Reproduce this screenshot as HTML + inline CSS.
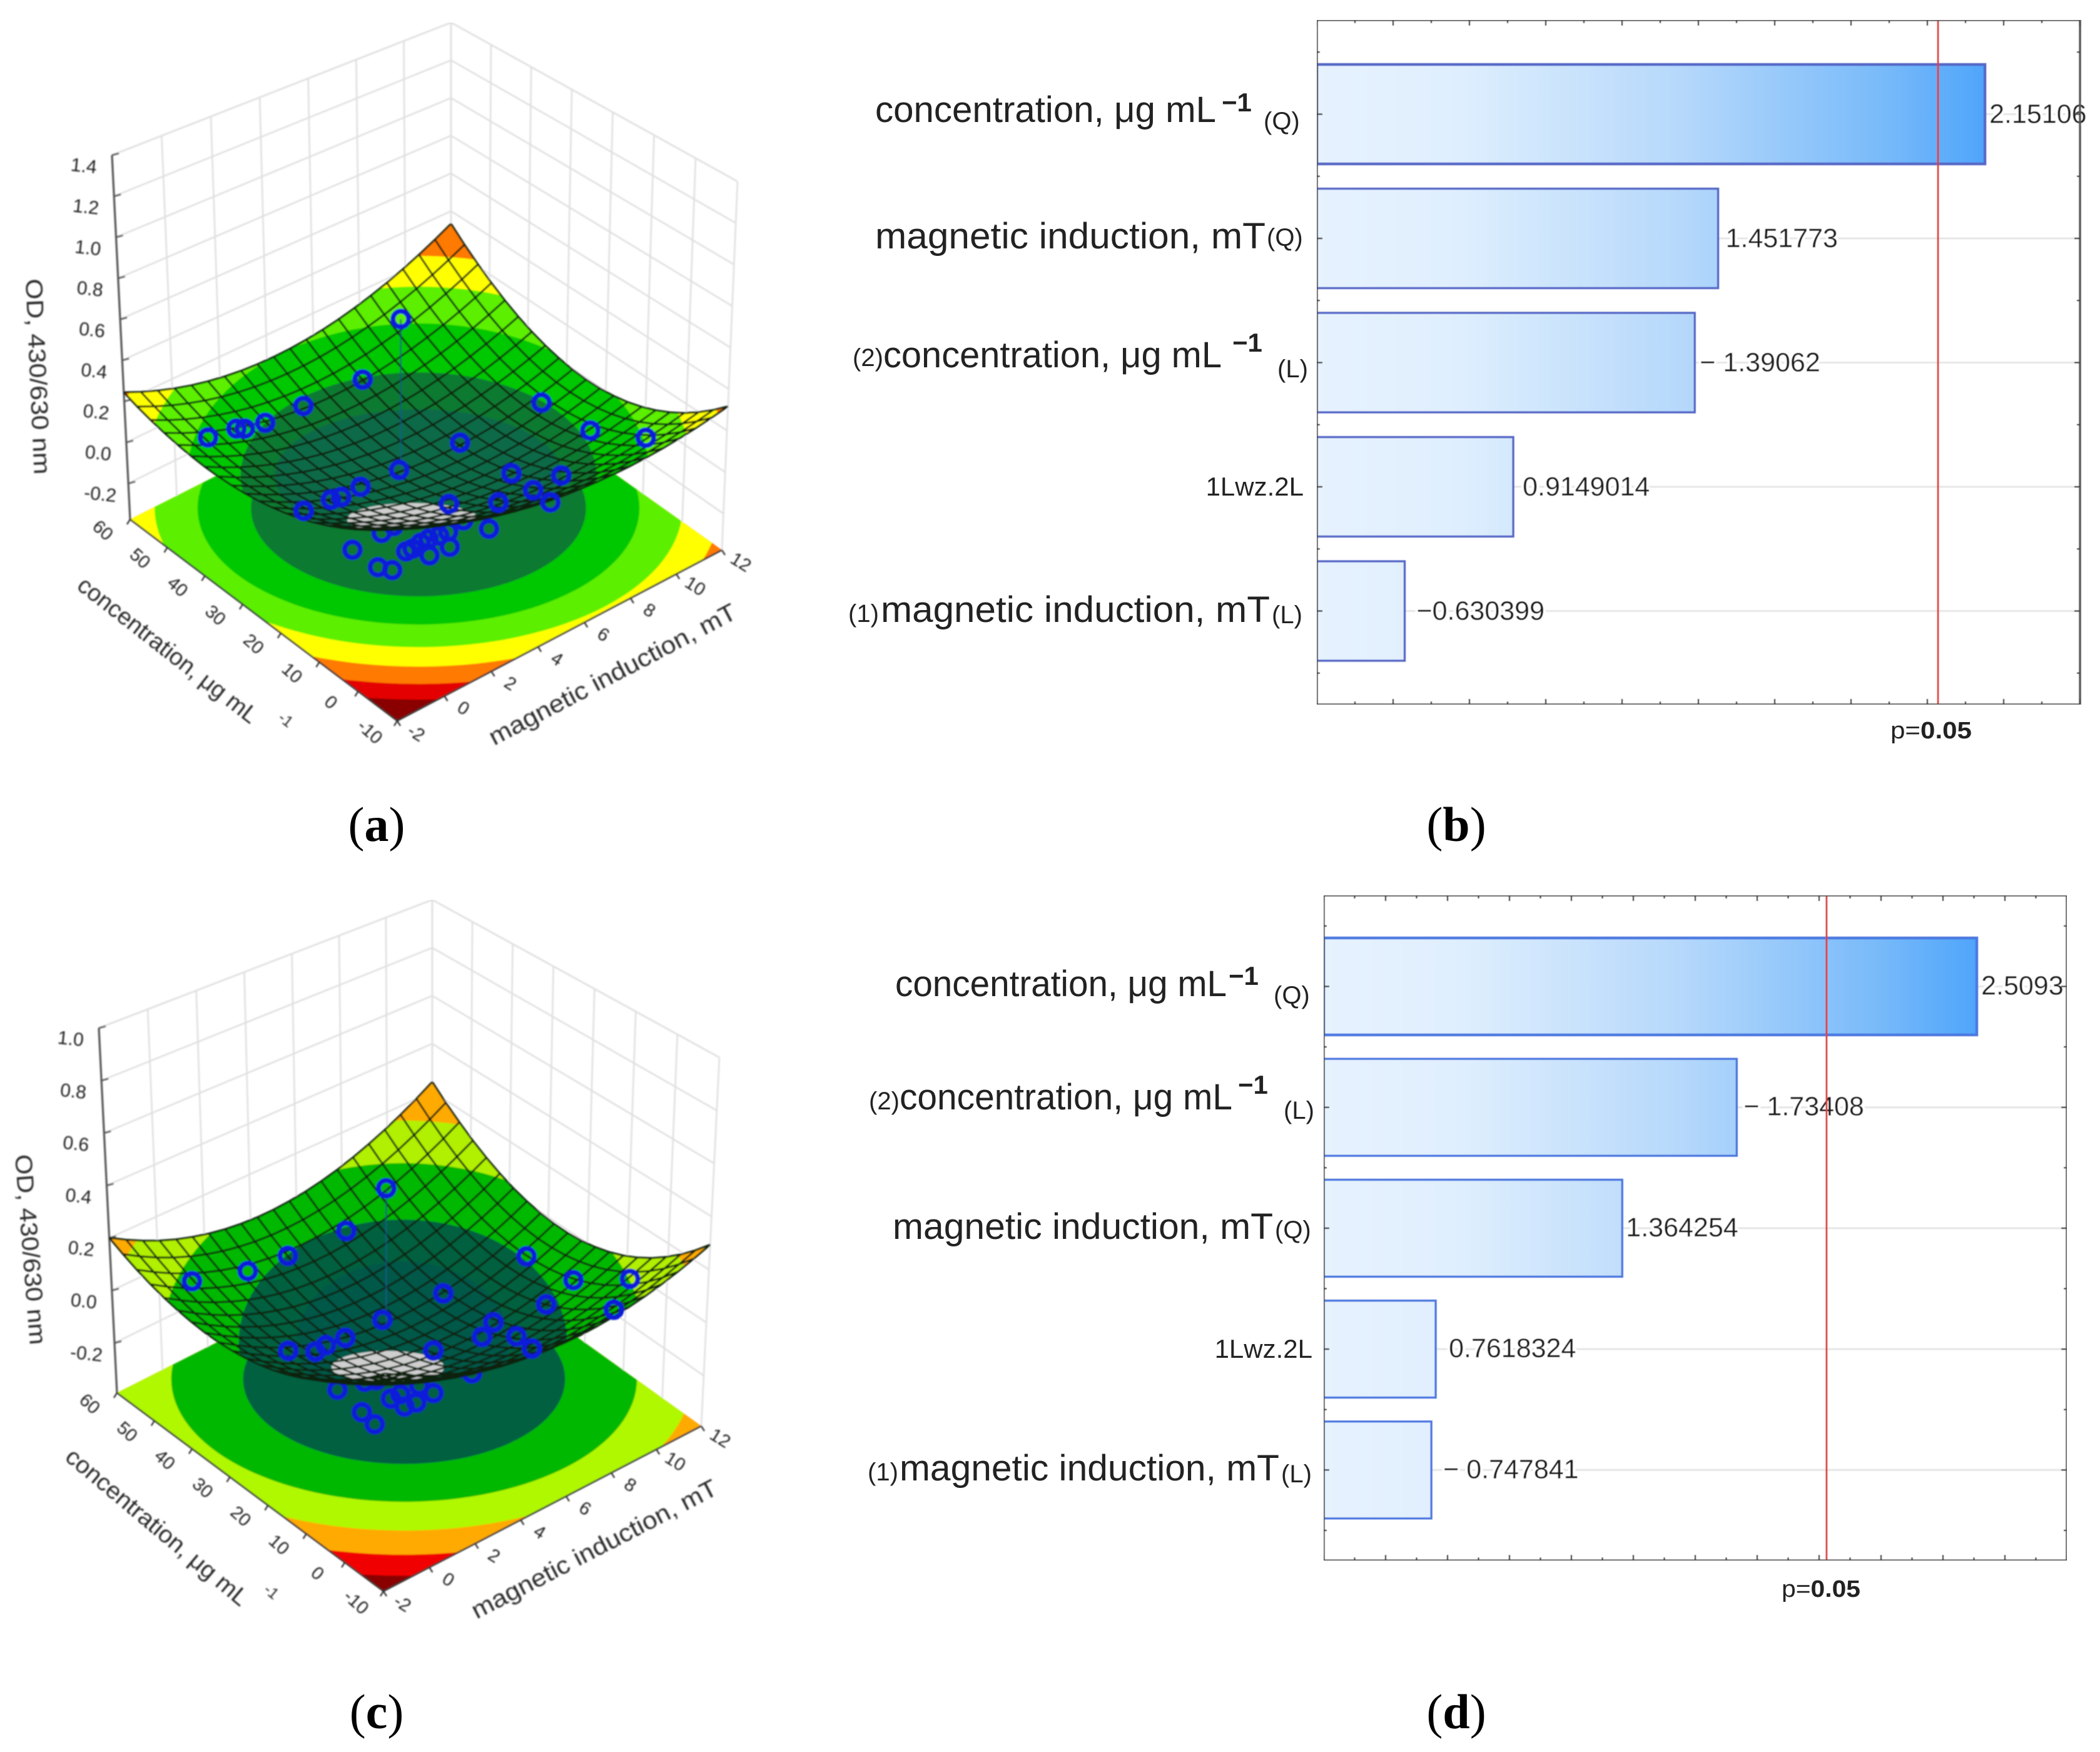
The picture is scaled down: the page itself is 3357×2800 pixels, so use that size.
<!DOCTYPE html>
<html lang="en">
<head>
<meta charset="utf-8">
<title>Response surfaces and Pareto charts</title>
<style>
html,body{margin:0;padding:0;background:#fff;}
svg{display:block;}
text{font-family:"Liberation Sans",sans-serif;fill:#222;}
.cap{font-family:"Liberation Serif",serif;font-size:78px;fill:#000;text-anchor:middle;}
.cap tspan{font-weight:700;}
.lab{font-size:58px;}
.sm{font-size:40px;}
.sup{font-size:42px;font-weight:700;}
.mini{font-size:42px;}
.ptxt{font-size:38px;}
.ax3{fill:#2a2a2a;}
</style>
</head>
<body>
<svg id="root" xmlns="http://www.w3.org/2000/svg" width="3357" height="2800" viewBox="0 0 3357 2800">
<defs>
<filter id="soft" x="0" y="0" width="100%" height="100%" filterUnits="objectBoundingBox"><feGaussianBlur stdDeviation="1.1"/></filter>
<filter id="softP" x="0" y="0" width="100%" height="100%" filterUnits="objectBoundingBox"><feGaussianBlur stdDeviation="0.6"/></filter>
<linearGradient id="barGradB" gradientUnits="userSpaceOnUse" x1="2105" y1="0" x2="3173" y2="0">
<stop offset="0" stop-color="#e6f2fe"/><stop offset=".2" stop-color="#e0effe"/><stop offset=".55" stop-color="#b5d8fb"/><stop offset=".85" stop-color="#78baf9"/><stop offset="1" stop-color="#4fa5fb"/>
</linearGradient>
<linearGradient id="barGradD" gradientUnits="userSpaceOnUse" x1="2116" y1="0" x2="3160" y2="0">
<stop offset="0" stop-color="#e6f2fe"/><stop offset=".2" stop-color="#e0effe"/><stop offset=".55" stop-color="#b5d8fb"/><stop offset=".85" stop-color="#78baf9"/><stop offset="1" stop-color="#4fa5fb"/>
</linearGradient>
</defs>

<g id="panelA" filter="url(#soft)">
<text class="ax3" transform="translate(41,446) rotate(87.5)" font-size="38" textLength="313" lengthAdjust="spacingAndGlyphs">OD, 430/630 nm</text>
<text class="ax3" transform="translate(121,940) rotate(38)" font-size="38" textLength="354" lengthAdjust="spacingAndGlyphs">concentration, μg mL</text>
<text class="ax3" transform="translate(443,1150) rotate(38)" font-size="25">-1</text>
<text class="ax3" transform="translate(790,1192) rotate(-27.7)" font-size="39" textLength="441" lengthAdjust="spacingAndGlyphs">magnetic induction, mT</text>
</g>

<g id="panelC" filter="url(#soft)">
<text class="ax3" transform="translate(24,1846) rotate(85.5)" font-size="38" textLength="305" lengthAdjust="spacingAndGlyphs">OD, 430/630 nm</text>
<text class="ax3" transform="translate(102,2332) rotate(40)" font-size="38" textLength="368" lengthAdjust="spacingAndGlyphs">concentration, μg mL</text>
<text class="ax3" transform="translate(420,2543) rotate(40)" font-size="25">-1</text>
<text class="ax3" transform="translate(762,2588) rotate(-27.4)" font-size="39" textLength="437" lengthAdjust="spacingAndGlyphs">magnetic induction, mT</text>
</g>

<g id="panelB" filter="url(#softP)"></g>
<g>
<text class="lab" x="1399" y="195" textLength="545" lengthAdjust="spacingAndGlyphs">concentration, μg mL</text>
<text class="sup" x="1953" y="178">−1</text>
<text class="sm" x="2020" y="207">(Q)</text>
<text class="lab" x="1399" y="397" textLength="624" lengthAdjust="spacingAndGlyphs">magnetic induction, mT</text>
<text class="sm" x="2025" y="393">(Q)</text>
<text class="sm" x="1363" y="585">(2)</text>
<text class="lab" x="1412" y="587" textLength="541" lengthAdjust="spacingAndGlyphs">concentration, μg mL</text>
<text class="sup" x="1970" y="562">−1</text>
<text class="sm" x="2042" y="603">(L)</text>
<text class="mini" x="2084" y="792" text-anchor="end">1Lwz.2L</text>
<text class="sm" x="1356" y="994">(1)</text>
<text class="lab" x="1408" y="994" textLength="622" lengthAdjust="spacingAndGlyphs">magnetic induction, mT</text>
<text class="sm" x="2033" y="996">(L)</text>
<text class="ptxt" x="3022" y="1180" textLength="130" lengthAdjust="spacingAndGlyphs">p=<tspan font-weight="700">0.05</tspan></text>
</g>

<g id="panelD" filter="url(#softP)"></g>
<g>
<text class="lab" x="1431" y="1592" textLength="530" lengthAdjust="spacingAndGlyphs">concentration, μg mL</text>
<text class="sup" x="1964" y="1574">−1</text>
<text class="sm" x="2036" y="1604">(Q)</text>
<text class="sm" x="1389" y="1773">(2)</text>
<text class="lab" x="1438" y="1773" textLength="532" lengthAdjust="spacingAndGlyphs">concentration, μg mL</text>
<text class="sup" x="1979" y="1748">−1</text>
<text class="sm" x="2052" y="1788">(L)</text>
<text class="lab" x="1427" y="1980" textLength="608" lengthAdjust="spacingAndGlyphs">magnetic induction, mT</text>
<text class="sm" x="2038" y="1979">(Q)</text>
<text class="mini" x="2098" y="2170" text-anchor="end">1Lwz.2L</text>
<text class="sm" x="1387" y="2366">(1)</text>
<text class="lab" x="1438" y="2366" textLength="607" lengthAdjust="spacingAndGlyphs">magnetic induction, mT</text>
<text class="sm" x="2048" y="2369">(L)</text>
<text class="ptxt" x="2848" y="2552" textLength="126" lengthAdjust="spacingAndGlyphs">p=<tspan font-weight="700">0.05</tspan></text>
</g>

<text class="cap" x="602" y="1344">(<tspan>a</tspan>)</text>
<text class="cap" x="2328" y="1344">(<tspan>b</tspan>)</text>
<text class="cap" x="602" y="2762">(<tspan>c</tspan>)</text>
<text class="cap" x="2328" y="2762">(<tspan>d</tspan>)</text>
</svg>

<script>
// ---- Pareto chart data ----
const barValuesB = [2.15106, 1.451773, -1.39062, 0.9149014, -0.630399];
const printedValuesB = ['2.15106', '1.451773', '− 1.39062', '0.9149014', '−0.630399'];
const barValuesD = [2.5093, -1.73408, 1.364254, 0.7618324, -0.747841];
const printedValuesD = ['2.5093', '− 1.73408', '1.364254', '0.7618324', '− 0.747841'];
const significanceB = [2.028];
const significanceD = [2.024];

// ---- Surface plot data: OD sampled at low / mid / high induction, for low / mid / high concentration ----
const inductionTicks = [-2, 0, 2, 4, 6, 8, 10, 12];
const concentrationTicks = [-10, 0, 10, 20, 30, 40, 50, 60];
const odTicksA = [-0.2, 0, 0.2, 0.4, 0.6, 0.8, 1.0, 1.2, 1.4];
const odTicksC = [-0.2, 0, 0.2, 0.4, 0.6, 0.8, 1.0];
const surfaceOdA = [[0.482, 0.269, 0.317], [0.173, -0.089, -0.008], [0.244, 0.076, 0.333]];
const surfaceOdC = [[0.373, 0.184, 0.294], [0.094, -0.134, -0.011], [0.201, 0.019, 0.241]];
const contourLevelsFloorA = [1.0, 0.8, 0.6, 0.4, 0.2, 0];
const contourLevelsSurfaceA = [0.6, 0.4, 0.2, 0, -0.1];
const contourLevelsFloorC = [0.8, 0.6, 0.4, 0.2, 0];
const contourLevelsSurfaceC = [0.4, 0.2, 0, -0.1];

const pointInductionA = [4.45,3.56,2.18,1.28,0.80,0.60,-0.07,7.70,8.84,10.13,5.82,4.40,7.03,8.19,3.49,3.03,2.79,7.54,6.73,7.95,5.57,2.14,
  0.82,1.10,2.70,3.29,1.38,1.53,1.72,1.90,2.15,2.35,2.39,1.92,0.14,0.73,1.06];
const pointConcentrationA = [27.76,32.18,39.12,43.61,46.00,46.98,50.36,11.49,5.78,-0.67,20.89,28.01,14.87,9.03,32.55,34.83,36.05,12.29,16.34,10.26,22.17,39.31,
  10.91,9.50,1.52,-1.43,8.08,7.35,6.42,5.51,4.27,3.23,3.05,5.38,14.28,11.34,9.68];
const pointOdA = [0.664,0.362,0.220,0.129,0.096,0.094,0.044,0.292,0.169,0.147,0.079,-0.068,-0.057,-0.055,-0.159,-0.213,-0.229,-0.133,-0.201,-0.188,-0.221,-0.290,
  0.053,0.088,0.130,0.097,-0.027,-0.013,0.016,0.036,0.054,0.074,0.004,-0.040,-0.032,-0.107,-0.117];

const pointInductionC = [4.47,3.54,2.17,1.22,-0.10,7.74,8.85,10.17,9.82,5.81,4.38,8.23,7.00,6.74,7.55,3.50,3.04,2.79,2.14,7.92,5.59,
  2.96,3.25,2.21,1.96,1.03,0.76,0.12,2.03,2.36,1.96,1.59,1.37,1.69,0.69,0.99];
const pointConcentrationC = [27.65,32.31,39.15,43.88,50.48,11.28,5.74,-0.85,0.89,20.93,28.08,8.85,15.01,16.32,12.27,32.50,34.80,36.05,39.28,10.41,22.05,
  0.21,-1.23,3.94,5.18,9.85,11.22,14.39,4.87,3.19,5.18,7.05,8.17,6.55,11.53,10.03];
const pointOdC = [0.444,0.274,0.168,0.102,0.052,0.214,0.133,0.149,0.030,0.057,-0.056,0.036,-0.043,-0.100,-0.091,-0.132,-0.164,-0.191,-0.193,-0.134,-0.162,
  0.102,0.084,0.102,0.083,0.040,0.032,-0.002,0.029,0.005,-0.033,-0.006,-0.024,-0.050,-0.079,-0.120];

// ---- helpers ----
const NS = 'http://www.w3.org/2000/svg';
function node(parent, tag, attrs) {
  const el = document.createElementNS(NS, tag);
  for (const k in attrs) el.setAttribute(k, attrs[k]);
  parent.appendChild(el);
  return el;
}
function squareToQuad(q) {
  const x0=q[0][0],y0=q[0][1],x1=q[1][0],y1=q[1][1],x2=q[2][0],y2=q[2][1],x3=q[3][0],y3=q[3][1];
  const dx1=x1-x2,dx2=x3-x2,dx3=x0-x1+x2-x3,dy1=y1-y2,dy2=y3-y2,dy3=y0-y1+y2-y3;
  const den=dx1*dy2-dx2*dy1;
  const g=(dx3*dy2-dx2*dy3)/den,h=(dx1*dy3-dx3*dy1)/den;
  const a=x1-x0+g*x1,b=x3-x0+h*x3,d=y1-y0+g*y1,e=y3-y0+h*y3;
  return function(u,v){const k=g*u+h*v+1;return [(a*u+b*v+x0)/k,(d*u+e*v+y0)/k];};
}
function quadBasis(t){return [2*(t-0.5)*(t-1),4*t*(1-t),2*t*(t-0.5)];}

// ---- 3D response surface ----
function drawSurface(g, cfg) {
  const floorH = squareToQuad(cfg.floor), topH = squareToQuad(cfg.top);
  const zScale = z => (z - cfg.zMin) / (cfg.zMax - cfg.zMin);
  const uScale = i => (i + 2) / 14;
  const vScale = c => (c + 10) / 70;
  function project(u, v, w) {
    const a = floorH(u, v), b = topH(u, v);
    return [a[0] + (b[0]-a[0])*w, a[1] + (b[1]-a[1])*w];
  }
  function surfaceZ(u, v) {
    const bu = quadBasis(u), bv = quadBasis(v);
    let s = 0;
    for (let r = 0; r < 3; r++) for (let c = 0; c < 3; c++) s += bv[r]*bu[c]*cfg.surface[r][c];
    return s;
  }
  const fmt = p => p[0].toFixed(1) + ',' + p[1].toFixed(1);

  // walls
  const wallStyle = {stroke:'#e0e0e0','stroke-width':2.6,fill:'none'};
  inductionTicks.forEach(t => {
    const u = uScale(t);
    const l = node(g,'polyline',Object.assign({points:fmt(project(u,1,0))+' '+fmt(project(u,1,1))},wallStyle));
    
    
  });
  concentrationTicks.forEach(t => {
    const v = vScale(t);
    const l = node(g,'polyline',Object.assign({points:fmt(project(1,v,0))+' '+fmt(project(1,v,1))},wallStyle));
    
    
  });
  cfg.zTicks.concat([cfg.zMax]).forEach(t => {
    const w = zScale(t);
    const l = node(g,'polyline',Object.assign({points:fmt(project(0,1,w))+' '+fmt(project(1,1,w))+' '+fmt(project(1,0,w))},wallStyle));
    
    
  });

  // floor contours
  const clipF = node(g.ownerSVGElement.querySelector('defs'),'clipPath',{id:cfg.id+'floorClip'});
  const floorPoly = node(clipF,'polygon',{points:cfg.floor.map(fmt).join(' ')});
  
  
  const floorG = node(g,'g',{'clip-path':'url(#'+cfg.id+'floorClip)'});
  
  
  const floorBase = node(floorG,'polygon',{points:cfg.floor.map(fmt).join(' '),fill:cfg.floorBase});
  
  
  cfg.floorLevels.forEach((L,i) => {
    const rx = Math.sqrt(cfg.fk*(L+cfg.fL0));
    const e = node(floorG,'ellipse',{cx:cfg.fc[0],cy:cfg.fc[1],rx:rx,ry:rx*0.527,fill:cfg.floorColors[i]});
    
    
  });
  const edge = {stroke:'#333','stroke-width':2.6,fill:'none'};
  const edges = node(g,'polyline',Object.assign({points:[cfg.floor[3],cfg.floor[0],cfg.floor[1]].map(fmt).join(' ')},edge));
  
  

  // axis ticks + labels
  const zAxis = node(g,'polyline',{points:fmt(project(0,1,0))+' '+fmt(project(0,1,1)),stroke:'#555','stroke-width':3.2,fill:'none'});
  
  
  cfg.zTicks.concat([]).forEach(t => {
    const p = project(0,1,zScale(t));
    const tk = node(g,'line',{x1:p[0],y1:p[1],x2:p[0]+11,y2:p[1]-3,stroke:'#555','stroke-width':2.6});
    
    
    const lb = node(g,'text',{transform:'translate('+(p[0]-46)+','+(p[1]+27)+') rotate(6)','font-size':30,'text-anchor':'middle',fill:'#555'});
    
    
    lb.textContent = t.toFixed(1);
  });
  concentrationTicks.forEach(t => {
    const p = project(0,vScale(t),0);
    const tk = node(g,'line',{x1:p[0],y1:p[1],x2:p[0]-5,y2:p[1]+8,stroke:'#333','stroke-width':2.4});
    
    
    const lb = node(g,'text',{transform:'translate('+(p[0]-44)+','+(p[1]+18)+') rotate(42)','font-size':29,'text-anchor':'middle','dominant-baseline':'central',fill:'#555'});
    
    
    lb.textContent = String(t);
  });
  inductionTicks.forEach(t => {
    const p = project(uScale(t),0,0);
    const tk = node(g,'line',{x1:p[0],y1:p[1],x2:p[0]+5,y2:p[1]+8,stroke:'#333','stroke-width':2.4});
    
    
    const lb = node(g,'text',{transform:'translate('+(p[0]+30)+','+(p[1]+20)+') rotate(32)','font-size':29,'text-anchor':'middle','dominant-baseline':'central',fill:'#555'});
    
    
    lb.textContent = String(t);
  });

  // scatter point
  function drawPoint(i) {
    const p = project(uScale(cfg.ptI[i]), vScale(cfg.ptC[i]), zScale(cfg.ptZ[i]));
    const c = node(g,'circle',{cx:p[0],cy:p[1],r:12.5,fill:'none',stroke:'#0a1fd8','stroke-width':8});
    
    
  }
  for (let i = cfg.lowerStart; i < cfg.ptI.length; i++) drawPoint(i);

  // surface
  const n = 20;
  const grid = [];
  for (let i = 0; i <= n; i++) {
    grid.push([]);
    for (let j = 0; j <= n; j++) {
      const u = i/n, v = j/n;
      grid[i].push(project(u, v, zScale(surfaceZ(u,v))));
    }
  }
  const clipS = node(g.ownerSVGElement.querySelector('defs'),'clipPath',{id:cfg.id+'surfClip'});
  for (let i = 0; i < n; i++) for (let j = 0; j < n; j++) {
    const cell = node(clipS,'polygon',{points:[grid[i][j],grid[i+1][j],grid[i+1][j+1],grid[i][j+1]].map(fmt).join(' ')});
    
    
  }
  const surfG = node(g,'g',{'clip-path':'url(#'+cfg.id+'surfClip)'});
  
  
  const surfBase = node(surfG,'rect',{x:cfg.sc[0]-900,y:cfg.sc[1]-700,width:1800,height:1300,fill:cfg.surfBase});
  
  
  cfg.surfLevels.forEach((L,i) => {
    const rx = Math.sqrt(cfg.sxk*(L+cfg.sxL0));
    const ry = Math.sqrt(cfg.syk*(L+cfg.syL0));
    const e = node(surfG,'ellipse',{cx:cfg.sc[0],cy:cfg.sc[1],rx:rx,ry:ry,fill:cfg.surfColors[i]});
    
    
  });
  const grey = node(surfG,'ellipse',{cx:cfg.grey[0],cy:cfg.grey[1],rx:cfg.grey[2],ry:cfg.grey[3],fill:'#cfcfcf'});
  
  

  const meshStyle = {fill:'none',stroke:'#082008','stroke-width':3};
  for (let i = 0; i <= n; i++) {
    const a = node(g,'polyline',Object.assign({points:grid[i].map(fmt).join(' ')},meshStyle));
    
    
    const b = node(g,'polyline',Object.assign({points:grid.map(r => fmt(r[i])).join(' ')},meshStyle));
    
    
  }

  // stem of the highest point
  const top = project(uScale(cfg.ptI[0]), vScale(cfg.ptC[0]), zScale(cfg.ptZ[0]));
  const stem = node(g,'line',{x1:top[0],y1:top[1],x2:top[0],y2:top[1]+cfg.stem,stroke:'#0a5f88','stroke-width':3,opacity:0.7});
  
  
  for (let i = 0; i < cfg.lowerStart; i++) drawPoint(i);
}

drawSurface(document.getElementById('panelA'), {
  id:'a',
  floor:[[635,1152],[1154,879],[721,571],[208,830]],
  top:[[635,516],[1179,290],[721,36],[179,248]],
  zMin:-0.375, zMax:1.4, zTicks:odTicksA,
  surface:surfaceOdA,
  ptI:pointInductionA, ptC:pointConcentrationA, ptZ:pointOdA, lowerStart:22, stem:240,
  fc:[669,812], fk:265600, fL0:0.27,
  floorBase:'#8a0000', floorLevels:contourLevelsFloorA,
  floorColors:['#e40000','#ff7a00','#ffff00','#5cf000','#06c800','#0c7a30'],
  sc:[669,760], sxk:280000, sxL0:0.289, syk:160000, syL0:0.17,
  surfBase:'#ff7a00', surfLevels:contourLevelsSurfaceA,
  surfColors:['#ffff00','#5cf000','#06c800','#0e7a30','#0a6a48'],
  grey:[660,830,105,26]
});
drawSurface(document.getElementById('panelC'), {
  id:'c',
  floor:[[613,2543],[1121,2279],[691,1971],[187,2226]],
  top:[[617,1909],[1150,1690],[691,1438],[158,1643]],
  zMin:-0.39, zMax:1.0, zTicks:odTicksC,
  surface:surfaceOdC,
  ptI:pointInductionC, ptC:pointConcentrationC, ptZ:pointOdC, lowerStart:21, stem:220,
  fc:[646,2204], fk:362000, fL0:0.183,
  floorBase:'#8a0000', floorLevels:contourLevelsFloorC,
  floorColors:['#f00000','#ffaa00','#b0f800','#06b800','#06603f'],
  sc:[644,2144], sxk:400000, sxL0:0.172, syk:217000, syL0:0.175,
  surfBase:'#ffaa00', surfLevels:contourLevelsSurfaceC,
  surfColors:['#b0f000','#06b800','#06603f','#05584a'],
  grey:[620,2185,90,26]
});

// ---- Pareto chart ----
function drawPareto(g, cfg) {
  const xScale = v => cfg.left + (v - cfg.dom[0]) / (cfg.dom[1] - cfg.dom[0]) * (cfg.right - cfg.left);
  const yBand = i => cfg.y0 + cfg.step * i;
  const bg = node(g,'rect',{x:cfg.left,y:cfg.topY,width:cfg.right-cfg.left,height:cfg.botY-cfg.topY,fill:'#fff'});
  
  
  cfg.values.forEach((v,i) => {
    const gl = node(g,'line',{x1:cfg.left,x2:cfg.right,y1:yBand(i),y2:yBand(i),stroke:'#e6e6e6','stroke-width':3});
    
    
  });
  cfg.values.forEach((v,i) => {
    const r = node(g,'rect',{x:cfg.left,y:yBand(i)-cfg.h/2,width:xScale(Math.abs(v))-cfg.left,height:cfg.h,fill:'url(#'+cfg.grad+')',stroke:cfg.barStroke,'stroke-width':i===0?4.5:3.5});
    
    
  });
  cfg.values.forEach((v,i) => {
    const t = node(g,'text',{x:xScale(Math.abs(v))+cfg.gaps[i],y:yBand(i)+cfg.baseOff,'font-size':43,'stroke':'#fff','stroke-width':8,'paint-order':'stroke','stroke-linejoin':'round',style:'fill:#1a1a1a'});
    
    
    t.textContent = cfg.printed[i];
  });
  const red = node(g,'line',{x1:xScale(cfg.sig[0]),x2:xScale(cfg.sig[0]),y1:cfg.topY,y2:cfg.botY,stroke:'#e03a3a','stroke-width':3});
  
  
  const frame = node(g,'rect',{x:cfg.left,y:cfg.topY,width:cfg.right-cfg.left,height:cfg.botY-cfg.topY,fill:'none',stroke:'#555','stroke-width':3.5});
  
  
  for (let k = 0; k <= Math.round((cfg.dom[1]-cfg.dom[0])/0.1); k++) {
    const x = xScale(cfg.dom[0] + k*0.1), len = k % 2 === 0 ? 9 : 5;
    const t1 = node(g,'line',{x1:x,x2:x,y1:cfg.topY,y2:cfg.topY+len,stroke:'#444','stroke-width':2.4});
    
    
    const t2 = node(g,'line',{x1:x,x2:x,y1:cfg.botY,y2:cfg.botY-len,stroke:'#444','stroke-width':2.4});
    
    
  }
  for (let k = -1; k <= cfg.values.length * 2; k++) {
    const y = yBand(0) + k * cfg.step / 2, len = k % 2 === 0 ? 9 : 5;
    if (y <= cfg.topY || y >= cfg.botY) continue;
    const t1 = node(g,'line',{x1:cfg.left,x2:cfg.left+len,y1:y,y2:y,stroke:'#444','stroke-width':2.4});
    
    
    const t2 = node(g,'line',{x1:cfg.right,x2:cfg.right-len,y1:y,y2:y,stroke:'#444','stroke-width':2.4});
    
    
  }
}
drawPareto(document.getElementById('panelB'), {
  left:2105, right:3325, topY:32, botY:1126, dom:[0.4,2.4],
  y0:182.5, step:198.5, h:159, grad:'barGradB', barStroke:'#5568c8',
  values:barValuesB, printed:printedValuesB, sig:significanceB,
  gaps:[7,12,8,15,19], baseOff:14
});
drawPareto(document.getElementById('panelD'), {
  left:2116, right:3304, topY:1431, botY:2494, dom:[0.4,2.8],
  y0:1576.5, step:193.2, h:155, grad:'barGradD', barStroke:'#4a78e0',
  values:barValuesD, printed:printedValuesD, sig:significanceD,
  gaps:[7,11,6,21,19], baseOff:13
});
</script>
</body>
</html>
